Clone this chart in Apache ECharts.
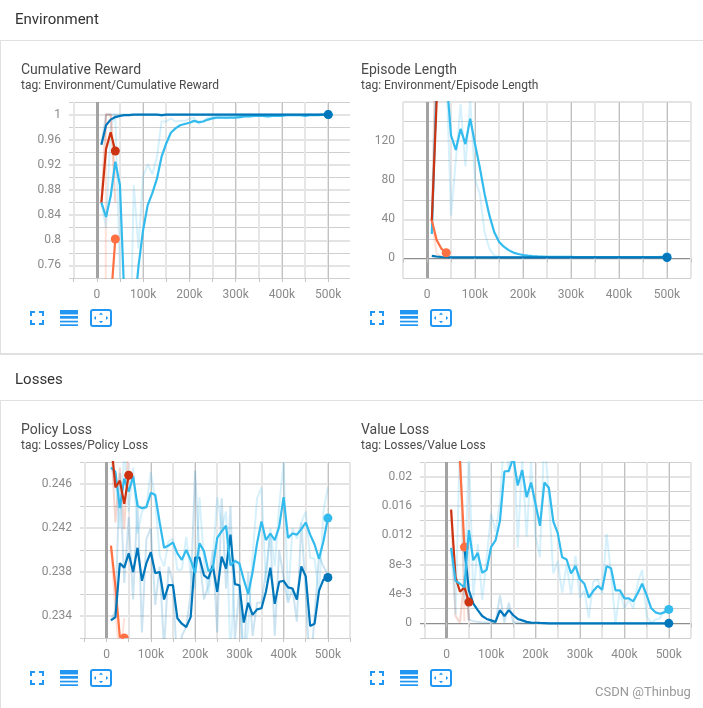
<!DOCTYPE html>
<html>
<head>
<meta charset="utf-8">
<script src="https://cdn.jsdelivr.net/npm/echarts@6/dist/echarts.min.js"></script>
<style>
html, body { margin: 0; padding: 0; background: #fff; overflow: hidden; }
body { width: 703px; height: 708px; position: relative; font-family: Roboto, sans-serif; color: #212121; }
#chart { position: absolute; left: 0; top: 0; width: 703px; height: 708px; }
.abs { position: absolute; white-space: nowrap; }
.section { font-size: 15px; line-height: 16px; color: #333; }
.title { font-size: 14px; line-height: 16px; color: #4a4a4a; }
.tag { font-size: 12px; line-height: 14px; color: #4a4a4a; }
.rule { position: absolute; left: 0; width: 703px; background: #e0e0e0; }
svg.icon { position: absolute; }
</style>
</head>
<body>
<div id="chart"></div>
<div class="abs section" style="left:15px;top:11px">Environment</div>
<div class="abs section" style="left:15px;top:371px">Losses</div>
<div class="rule" style="top:40px;height:1px"></div>
<div class="rule" style="top:353px;height:2px"></div>
<div class="rule" style="top:400px;height:1px"></div>
<div class="rule" style="top:40px;left:0;width:1px;height:314px"></div>
<div class="rule" style="top:400px;left:0;width:1px;height:308px"></div>
<div class="abs title" style="left:21px;top:61px">Cumulative Reward</div>
<div class="abs tag" style="left:21px;top:78px">tag: Environment/Cumulative Reward</div>
<div class="abs title" style="left:361px;top:61px">Episode Length</div>
<div class="abs tag" style="left:361px;top:78px">tag: Environment/Episode Length</div>
<div class="abs title" style="left:21px;top:421px">Policy Loss</div>
<div class="abs tag" style="left:21px;top:438px">tag: Losses/Policy Loss</div>
<div class="abs title" style="left:361px;top:421px">Value Loss</div>
<div class="abs tag" style="left:361px;top:438px">tag: Losses/Value Loss</div>
<div class="abs" style="left:595px;top:684px;font-size:13px;color:#999">CSDN @Thinbug</div>
<div id="icons"></div>
<script>
// run colours, same order as tensorboard
var colorOrange = '#ff7043'
var colorBlue = '#0077bb'
var colorRed = '#cc3311'
var colorCyan = '#33bbee'

// every run logs each 10k steps, null = nothing logged yet
var steps = []
for (var s = 1; s <= 50; s++) steps.push(s * 10000)

// Cumulative Reward
var rewardCyanSmooth = [.86, .837, .87, .925, .888, .7, .6, .68, .758, .816, .856, .875, .898, .933, .954, .971, .978, .983, .985, .987, .99, .988, .989, .992, .994, .995, .995, .995, .995, .995, .996, .997, .997, .998, .998, .998, .997, .998, .998, .998, .999, .999, .999, .999, .998, .999, .999, .999, 1, 1]
var rewardCyanRaw = [.86, .82, .98, 1, .75, .5, .55, .888, .787, .901, .921, .905, .932, .989, .989, .994, .989, .99, .99, .993, .995, .985, .99, .995, .996, .996, .995, .994, .996, .996, .998, .998, .998, .999, .998, .997, .997, .999, .999, .999, .999, .999, .999, .999, .998, 1, .999, 1, 1, 1]
var rewardBlueSmooth = [.952, .983, .992, .996, .998, .999, .999, 1, 1, 1, 1, 1, 1, .999, 1, 1, 1, 1, 1, 1, 1, 1, 1, 1, 1, 1, 1, 1, 1, 1, 1, 1, 1, 1, 1, 1, 1, 1, 1, 1, 1, 1, 1, 1, 1, 1, 1, 1, 1, 1]
var rewardBlueRaw = [.952, 1, 1, 1, 1, 1, 1, 1, 1, 1, 1, 1, 1, .998, 1, 1, 1, 1, 1, 1, 1, 1, 1, 1, 1, 1, 1, 1, 1, 1, 1, 1, 1, 1, 1, 1, 1, 1, 1, 1, 1, 1, 1, 1, 1, 1, 1, 1, 1, 1]
var rewardRedSmooth = [.86, .945, .972, .942]
var rewardRedRaw = [.86, 1, 1, .86]
var rewardOrangeSmooth = [.5, .6, .7, .802]
var rewardOrangeRaw = [-3, 1, 1, .9]

// Episode Length
var lengthCyanSmooth = [25, 180, 230, 190, 126, 111, 132.5, 117, 143, 117, 93, 66, 44, 27, 17, 12, 8.5, 6, 4.5, 3.5, 2.8, 2.4, 2.1, 1.9, 1.7, 1.7, 1.6, 1.6, 1.6, 1.6, 1.5, 1.5, 1.5, 1.5, 1.5, 1.5, 1.5, 1.5, 1.5, 1.5, 1.5, 1.5, 1.5, 1.5, 1.5, 1.5, 1.5, 1.5, 1.6, 1.6]
var lengthCyanRaw = [25, 180, 220, 200, 44, 100, 158, 94, 162, 81, 66, 27, 10, 3, 1.5, 1.5, 1.5, 1.5, 1.5, 1.5, 1.5, 1.5, 1.5, 1.5, 1.5, 1.5, 1.5, 1.5, 1.5, 1.5, 1.5, 1.5, 1.5, 1.5, 1.5, 1.5, 1.5, 1.5, 1.5, 1.5, 1.5, 1.5, 1.5, 1.5, 1.5, 1.5, 1.5, 1.5, 1.6, 1.6]
var lengthBlueSmooth = [2.7, 2, 1.5, 1.2, 1, 1, 1, 1, 1, 1, 1, 1, 1, 1, 1, 1, 1, 1, 1, 1, 1, 1, 1, 1, 1, 1, 1, 1, 1, 1, 1, 1, 1, 1, 1, 1, 1, 1, 1, 1, 1, 1, 1, 1, 1, 1, 1, 1, 1, 1]
var lengthBlueRaw = [2.7, 1, 1, 1, 1, 1, 1, 1, 1, 1, 1, 1, 1, 1, 1, 1, 1, 1, 1, 1, 1, 1, 1, 1, 1, 1, 1, 1, 1, 1, 1, 1, 1, 1, 1, 1, 1, 1, 1, 1, 1, 1, 1, 1, 1, 1, 1, 1, 1, 1]
var lengthRedSmooth = [38, 160, 230, 250]
var lengthRedRaw = [38, 260, 290, 270]
var lengthOrangeSmooth = [39, 19, 10, 5.8]
var lengthOrangeRaw = [39, 5, 2, 2]

// Policy Loss
var policyCyanSmooth = [.2475, .2471, .2438, .2465, .2453, .2467, .244, .2438, .2439, .2452, .245, .2425, .2402, .2404, .2407, .2397, .2391, .24, .2391, .2379, .2406, .2399, .2381, .2383, .2411, .2417, .2422, .2386, .239, .2388, .2373, .236, .238, .2406, .2426, .2409, .2415, .2409, .2421, .2448, .2411, .2415, .2414, .2419, .2425, .2414, .2405, .2392, .2408, .2429]
var policyCyanRaw = [.2475, .2465, .242, .249, .2435, .2475, .2415, .2435, .244, .2471, .2445, .2395, .2385, .2408, .241, .2382, .2382, .2412, .2378, .2365, .2448, .239, .236, .239, .2448, .242, .2435, .23, .2392, .2385, .2295, .233, .2395, .2447, .2457, .237, .242, .2385, .244, .248, .2355, .242, .241, .2425, .2435, .2393, .2392, .236, .2435, .2457]
var policyBlueSmooth = [.2336, .2339, .2388, .2384, .2397, .238, .2402, .2372, .2388, .2398, .2379, .238, .2355, .2368, .2368, .2338, .2333, .233, .2339, .2393, .2393, .2377, .2374, .2386, .2362, .2394, .2383, .2414, .2369, .2368, .2334, .2352, .2341, .2346, .2347, .2362, .2384, .2351, .2371, .2372, .2366, .2365, .2355, .2385, .2376, .2331, .2333, .2363, .2373, .2375]
var policyBlueRaw = [.2336, .2345, .247, .237, .243, .2355, .2445, .2325, .241, .242, .235, .2385, .231, .2385, .237, .229, .2322, .233, .236, .2472, .2392, .2355, .2368, .24, .2325, .2447, .2365, .244, .2318, .2365, .2295, .238, .2322, .2352, .2352, .238, .2415, .2322, .24, .2375, .2352, .2365, .2335, .2425, .236, .2288, .234, .2395, .2385, .2378]
var policyRedSmooth = [.25, .2457, .2463, .2442, .2468]
var policyRedRaw = [.25, .2425, .2475, .2419, .25]
var policyOrangeSmooth = [.2404, .2367, .2321, .232]
var policyOrangeRaw = [.2404, .2345, .23, .2338]

// Value Loss
var valueCyanSmooth = [.0103, .0058, .0054, .0049, .0127, .0086, .0096, .0069, .0073, .0104, .0113, .014, .0207, .0208, .0226, .0188, .0209, .0172, .0192, .0163, .0133, .0192, .0185, .0139, .0123, .009, .0087, .0068, .0078, .006, .0054, .0035, .0044, .0051, .0046, .0078, .0075, .0045, .0045, .0034, .0034, .003, .0041, .0054, .0039, .0021, .0015, .0013, .0015, .0019]
var valueCyanRaw = [.0103, .0012, .025, .003, .024, .0035, .0108, .0032, .0088, .015, .0125, .0165, .026, .0205, .028, .0103, .0225, .0118, .022, .012, .009, .026, .017, .0068, .0085, .0042, .008, .004, .0092, .0035, .0045, .0007, .0057, .006, .004, .0122, .0068, 0, .0045, .002, .0032, .002, .0055, .0073, .001, .0001, .0005, .0007, .0018, .0024]
var valueBlueSmooth = [null, null, null, .0103, .0045, .0027, .0018, .001, .0006, .0004, .0002, .0018, .001, .0018, .0011, .0006, .0004, .0002, .0001, .00008, .00005, .00003, 0, 0, 0, 0, 0, 0, 0, 0, 0, 0, 0, 0, 0, 0, 0, 0, 0, 0, 0, 0, 0, 0, 0, 0, 0, 0, 0, 0]
var valueBlueRaw = [null, null, null, .0103, .0005, .0003, .0002, .0001, .0001, .0001, .0001, .0038, .0001, .0028, .0001, .0001, 0, 0, 0, 0, 0, 0, 0, 0, 0, 0, 0, 0, 0, 0, 0, 0, 0, 0, 0, 0, 0, 0, 0, 0, 0, 0, 0, 0, 0, 0, 0, 0, 0, 0]
var valueRedSmooth = [.0155, .0063, .0043, .0049, .0029]
var valueRedRaw = [.0155, .001, .0001, .0065, .0004]
var valueOrangeSmooth = [.05, .04, .022, .0104]
var valueOrangeRaw = [.05, .03, .026, .0003]

var xLabels = [0, 100000, 200000, 300000, 400000, 500000]
var xTicks = [-50000, 0, 50000, 100000, 150000, 200000, 250000, 300000, 350000, 400000, 450000, 500000, 550000]

var rewardLabels = [.76, .8, .84, .88, .92, .96, 1]
var lengthLabels = [0, 40, 80, 120]
var policyLabels = [.234, .238, .242, .246]
var valueLabels = [0, .004, .008, .012, .016, .02]

var panels = [
    {
        left: 69, right: 350, top: 102, bottom: 278, xMin: -60000, xMax: 547000,
        yMin: .74, yMax: 1.02, yStep: .02, yLabels: rewardLabels,
        yMajor: rewardLabels,
        runs: [
            [rewardOrangeRaw, rewardOrangeSmooth, colorOrange],
            [rewardRedRaw, rewardRedSmooth, colorRed],
            [rewardCyanRaw, rewardCyanSmooth, colorCyan],
            [rewardBlueRaw, rewardBlueSmooth, colorBlue]
        ],
        fmt: function (v) { return +v.toFixed(2) + '' }
    },
    {
        left: 403, right: 691, top: 102, bottom: 278, xMin: -50000, xMax: 550000,
        yMin: -20, yMax: 160, yStep: 20, yLabels: lengthLabels, yBase: 0,
        yMajor: [0, 40, 80, 120, 160],
        runs: [
            [lengthCyanRaw, lengthCyanSmooth, colorCyan],
            [lengthBlueRaw, lengthBlueSmooth, colorBlue],
            [lengthRedRaw, lengthRedSmooth, colorRed],
            [lengthOrangeRaw, lengthOrangeSmooth, colorOrange]
        ],
        fmt: function (v) { return v + '' }
    },
    {
        left: 80, right: 350, top: 462, bottom: 638, xMin: -60000, xMax: 550000,
        yMin: .232, yMax: .248, yStep: .002, yLabels: policyLabels,
        yMajor: policyLabels,
        runs: [
            [policyOrangeRaw, policyOrangeSmooth, colorOrange],
            [policyBlueRaw, policyBlueSmooth, colorBlue],
            [policyCyanRaw, policyCyanSmooth, colorCyan],
            [policyRedRaw, policyRedSmooth, colorRed]
        ],
        fmt: function (v) { return +v.toFixed(3) + '' }
    },
    {
        left: 420, right: 691, top: 462, bottom: 638, xMin: -60000, xMax: 550000,
        yMin: -.002, yMax: .022, yStep: .002, yLabels: valueLabels, yBase: 0,
        yMajor: valueLabels,
        runs: [
            [valueBlueRaw, valueBlueSmooth, colorBlue],
            [valueRedRaw, valueRedSmooth, colorRed],
            [valueOrangeRaw, valueOrangeSmooth, colorOrange],
            [valueCyanRaw, valueCyanSmooth, colorCyan]
        ],
        fmt: function (v) {
            if (Math.abs(v) < 1e-9) return '0'
            if (v < .01) return Math.round(v * 1000) + 'e-3'
            return +v.toFixed(3) + ''
        }
    }
]

function pairs(values) {
    return values.map(function (v, i) { return [steps[i], v] })
}

function yValues(p) {
    var list = []
    var n = Math.round((p.yMax - p.yMin) / p.yStep)
    for (var i = 0; i <= n; i++) list.push(+(p.yMin + i * p.yStep).toFixed(6))
    return list
}

var grid = [], xAxis = [], yAxis = [], series = []

panels.forEach(function (p, idx) {
    grid.push({ left: p.left, top: p.top, width: p.right - p.left, height: p.bottom - p.top })
    var firstX = xAxis.length
    var firstY = yAxis.length

    // minor vertical grid, thick and pale
    xAxis.push({
        type: 'value', gridIndex: idx, min: p.xMin, max: p.xMax, position: 'bottom',
        axisLine: { show: false },
        axisTick: { show: true, length: 4, customValues: xTicks, lineStyle: { color: '#c4c4c4' } },
        axisLabel: {
            show: true, customValues: xLabels, color: '#8a8a8a', fontSize: 12, fontFamily: 'Roboto', margin: 11,
            hideOverlap: false, showMinLabel: true, showMaxLabel: true,
            formatter: function (v) { return v === 0 ? '0' : v / 1000 + 'k' }
        },
        splitLine: { show: true, lineStyle: { color: '#e6e6e6', width: 2 } }
    })
    // major vertical grid, thin and dark
    xAxis.push({
        type: 'value', gridIndex: idx, min: p.xMin, max: p.xMax, position: 'top',
        axisLine: { show: false }, axisLabel: { show: false },
        axisTick: { show: false, customValues: xLabels },
        splitLine: { show: true, lineStyle: { color: '#c2c2c2', width: 1 } }
    })
    // zero step marker
    xAxis.push({
        type: 'value', gridIndex: idx, min: p.xMin, max: p.xMax, position: 'top',
        axisLine: { show: false }, axisLabel: { show: false },
        axisTick: { show: false, customValues: [0] },
        splitLine: { show: true, lineStyle: { color: '#a3a3a3', width: 3 } }
    })

    // y grid: labelled ticks thick and pale, the ones between thin
    yAxis.push({
        type: 'value', gridIndex: idx, min: p.yMin, max: p.yMax, position: 'left',
        axisLine: { show: false }, axisTick: { show: false, customValues: yValues(p) },
        axisLabel: { show: false },
        splitLine: { show: true, lineStyle: { color: '#cfcfcf', width: 1 } }
    })
    yAxis.push({
        type: 'value', gridIndex: idx, min: p.yMin, max: p.yMax, position: 'left',
        axisLine: { show: false }, axisTick: { show: false, customValues: p.yMajor },
        axisLabel: { show: true, customValues: p.yLabels, color: '#8a8a8a', fontSize: 12, fontFamily: 'Roboto', margin: 8, formatter: p.fmt },
        splitLine: { show: true, lineStyle: { color: '#e3e3e3', width: 2 } }
    })
    if (p.yBase !== undefined) {
        yAxis.push({
            type: 'value', gridIndex: idx, min: p.yMin, max: p.yMax, position: 'left',
            axisLine: { show: false }, axisLabel: { show: false },
            axisTick: { show: false, customValues: [p.yBase] },
            splitLine: { show: true, lineStyle: { color: '#8e8e8e', width: 1 } }
        })
    }

    p.runs.forEach(function (run) {
        series.push({
            type: 'line', xAxisIndex: firstX, yAxisIndex: firstY, data: pairs(run[0]), showSymbol: false,
            silent: true, lineStyle: { color: run[2], width: 2, opacity: .2 }, z: 3
        })
    })
    p.runs.forEach(function (run, k) {
        var smooth = run[1], color = run[2]
        series.push({
            type: 'line', xAxisIndex: firstX, yAxisIndex: firstY, data: pairs(smooth), showSymbol: false,
            silent: true, lineStyle: { color: color, width: 2.2 }, z: 4 + k
        })
        // custom instead of scatter, scatter drops a dot on the edge instead of cutting it
        series.push({
            type: 'custom', xAxisIndex: firstX, yAxisIndex: firstY, clip: true, silent: true, z: 4 + k,
            data: [pairs(smooth)[smooth.length - 1]],
            encode: { x: 0, y: 1 },
            renderItem: function (params, api) {
                var c = api.coord([api.value(0), api.value(1)])
                return { type: 'circle', shape: { cx: c[0], cy: c[1], r: 4.5 }, style: { fill: color } }
            }
        })
    })
})

var chart = echarts.init(document.getElementById('chart'), null, { renderer: 'canvas' })
chart.setOption({
    animation: false,
    grid: grid,
    xAxis: xAxis,
    yAxis: yAxis,
    series: series
})

// the three little buttons below each chart
function iconRow(x, y) {
    var ns = '<svg class="icon" style="left:' + x + 'px;top:' + y + 'px" width="90" height="20" viewBox="0 0 90 20" fill="none" stroke="#2196f3">'
    ns += '<path stroke-width="2" d="M2 7V3H6M10 3H14V7M14 11V15H10M6 15H2V11"/>'
    ns += '<g fill="#2196f3" stroke="none"><rect x="31" y="1" width="18" height="4.4"/><rect x="31" y="7" width="18" height="2.7"/><rect x="31" y="11.7" width="18" height="1.7"/><rect x="31" y="15.3" width="18" height="1.7"/></g>'
    ns += '<rect x="62" y="1" width="20" height="16" rx="2" stroke-width="2"/>'
    ns += '<path fill="#2196f3" stroke="none" d="M70 5.7h4l-2-2.2zM70 12h4l-2 2.2zM67 7v4l-2.2-2zM77 7v4l2.2-2z"/>'
    return ns + '</svg>'
}
document.getElementById('icons').innerHTML = iconRow(29, 309) + iconRow(369, 309) + iconRow(29, 669) + iconRow(369, 669)
</script>
</body>
</html>
